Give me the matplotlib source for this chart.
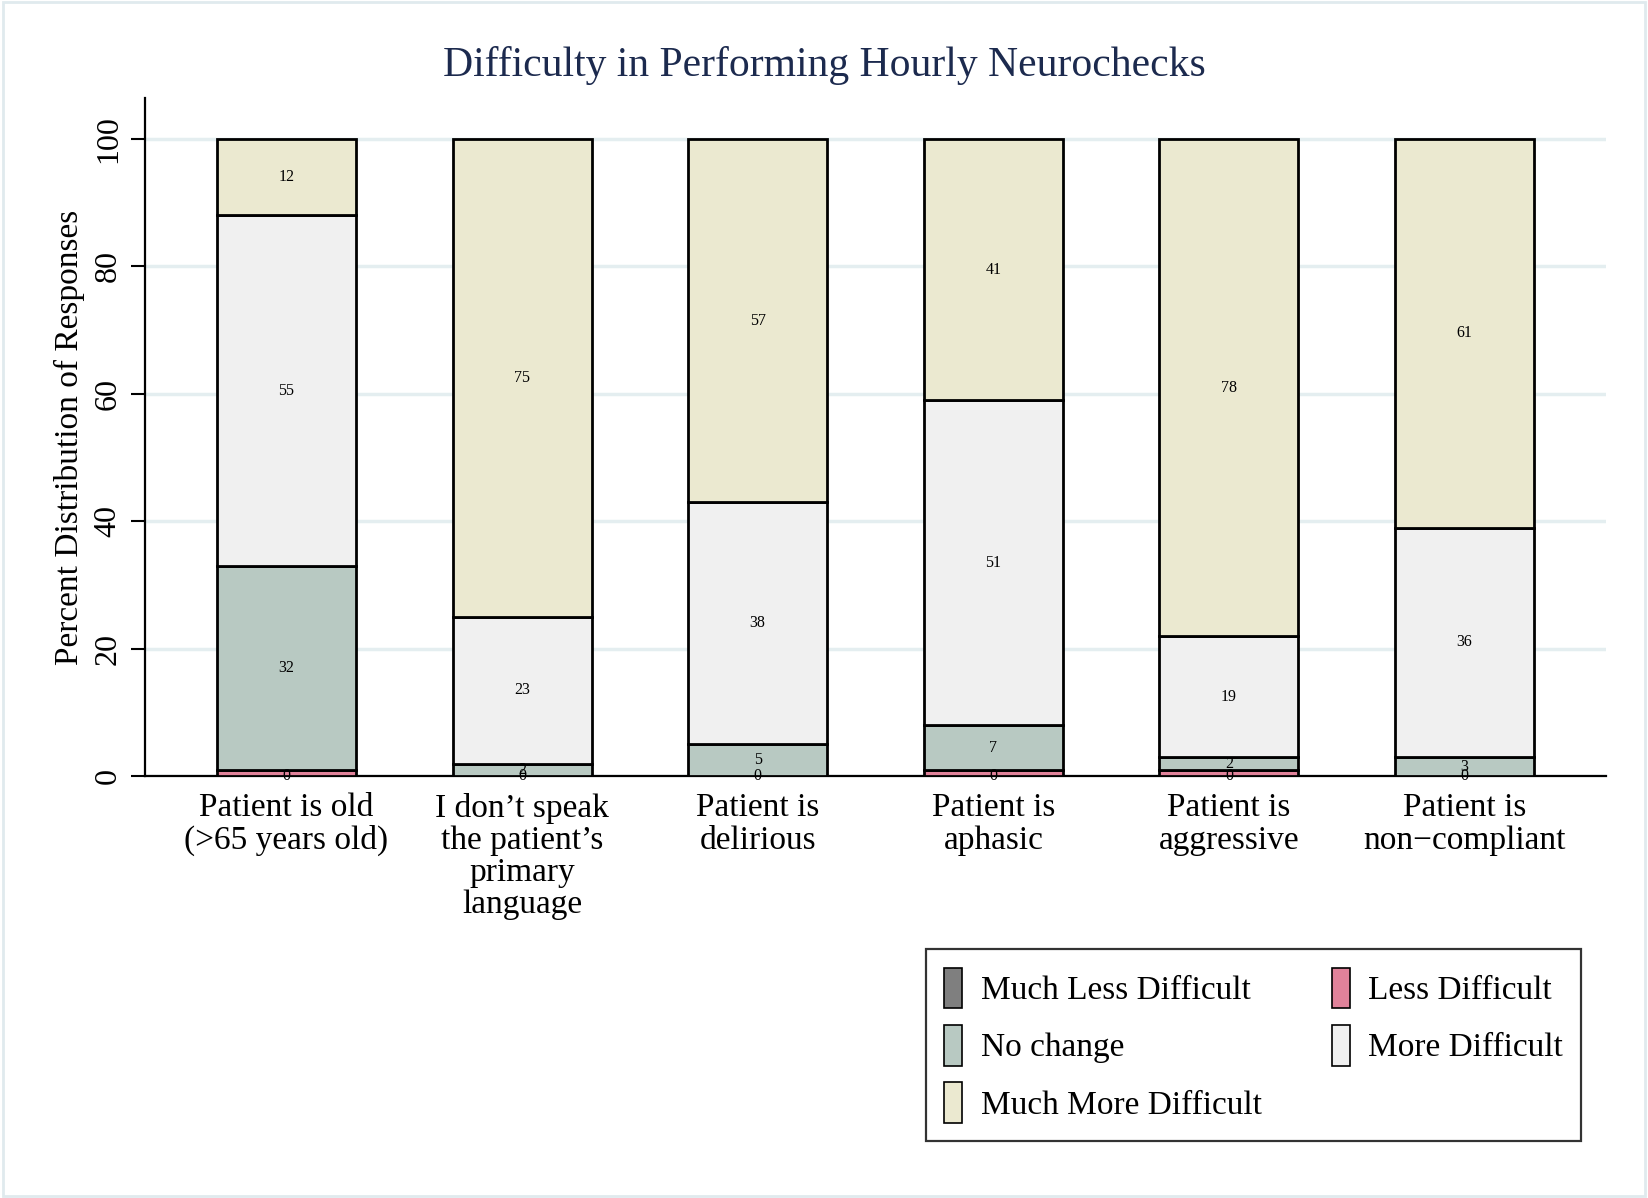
import numpy as np
import matplotlib
matplotlib.use('Agg')
import matplotlib.pyplot as plt
from matplotlib.patches import Patch, Rectangle

# --- data (percent of responses, stacked bottom to top) ---
categories = ["Patient is old\n(>65 years old)",
              "I don\u2019t speak\nthe patient\u2019s\nprimary\nlanguage",
              "Patient is\ndelirious",
              "Patient is\naphasic",
              "Patient is\naggressive",
              "Patient is\nnon\u2212compliant"]
series_names = ["Much Less Difficult", "Less Difficult", "No change",
                "More Difficult", "Much More Difficult"]
much_less = [0, 0, 0, 0, 0, 0]
less = [1, 0, 0, 1, 1, 0]
no_change = [32, 2, 5, 7, 2, 3]
more = [55, 23, 38, 51, 19, 36]
much_more = [12, 75, 57, 41, 78, 61]
y_ticks = [0, 20, 40, 60, 80, 100]

colors = ["#7f7f7f", "#e0829a", "#b8c9c2", "#f0f0f0", "#ebe9d0"]

plt.rcParams['font.family'] = ['Liberation Serif', 'DejaVu Serif']

fig = plt.figure(figsize=(16.48, 11.98), dpi=100)
ax = fig.add_axes([0.088, 0.352, 0.8865, 0.566])

x = np.arange(len(categories))
width = 0.59
stack = [much_less, less, no_change, more, much_more]
bottom = np.zeros(len(categories))
for i, vals in enumerate(stack):
    vals = np.array(vals, dtype=float)
    ax.bar(x, vals, width, bottom=bottom, color=colors[i],
           edgecolor='black', linewidth=2.0, zorder=3)
    # value labels (the thin "less difficult" strip carries none)
    if i != 1:
        for xi, b, v in zip(x, bottom, vals):
            ax.text(xi, b + v / 2, f"{v:.0f}", ha='center', va='center',
                    fontsize=11.5, zorder=4)
    bottom += vals

ax.set_xlim(-0.6, len(categories) - 0.4)
ax.set_ylim(0, 106.4)
ax.set_yticks(y_ticks)
ax.set_yticklabels([str(t) for t in y_ticks], rotation=90, va='center', fontsize=23)
ax.set_xticks(x)
ax.set_xticklabels(categories, fontsize=24, linespacing=1.07)
ax.tick_params(axis='x', length=0, pad=12)
ax.tick_params(axis='y', length=10, width=1.5, pad=6)
ax.grid(axis='y', color='#e4eef0', linewidth=2.5, zorder=0)
ax.set_axisbelow(True)
for s in ['top', 'right']:
    ax.spines[s].set_visible(False)
for s in ['left', 'bottom']:
    ax.spines[s].set_linewidth(1.6)
ax.set_ylabel("Percent Distribution of Responses", fontsize=24, labelpad=6)

fig.text(0.5, 0.945, "Difficulty in Performing Hourly Neurochecks",
         ha='center', va='center', fontsize=30, color='#1c2a4e')

# legend, filled row-wise like the original
order = [0, 2, 4, 1, 3]
handles = [Patch(facecolor=colors[k], edgecolor='black', linewidth=1.2) for k in order]
labels = [series_names[k] for k in order]
leg = fig.legend(handles, labels, ncol=2, loc='upper left',
                 bbox_to_anchor=(0.5515, 0.2215), bbox_transform=fig.transFigure,
                 fontsize=24, frameon=True, fancybox=False, edgecolor='black',
                 handlelength=0.55, handleheight=1.5, handletextpad=0.55,
                 columnspacing=2.1, labelspacing=0.5, borderpad=0.55)
leg.get_frame().set_linewidth(1.6)

# light outer border of the graph region
fig.patches.append(Rectangle((0.002, 0.002), 0.996, 0.996, transform=fig.transFigure,
                             fill=False, edgecolor='#e0eaee', linewidth=2))

fig.savefig("out.png", dpi=100)
